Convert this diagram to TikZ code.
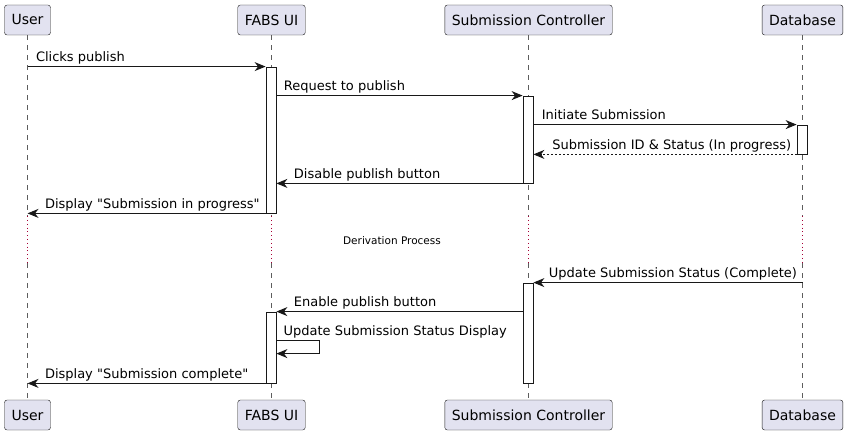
\documentclass[tikz,border=0pt]{standalone}
\usepackage{fontspec}
\setmainfont{DejaVu Sans}
\usetikzlibrary{arrows.meta,calc}
\definecolor{partfill}{HTML}{E2E2F0}
\definecolor{partline}{HTML}{181818}
\definecolor{delayline}{HTML}{A80036}
\tikzset{
	part/.style={draw=partline,fill=partfill,rounded corners=2.5pt,minimum height=30pt,inner xsep=7pt,font=\fontsize{14}{16}\selectfont},
	life/.style={draw=partline!70,line width=0.5pt,dash pattern=on 5pt off 5pt},
	delay/.style={draw=delayline,line width=0.8pt,dash pattern=on 0.8pt off 3pt},
	actbar/.style={draw=partline,fill=white,minimum width=10pt,inner sep=0pt,line width=0.8pt},
	msg/.style={draw=partline,line width=1pt,-{Stealth[length=11pt,width=9pt,inset=3.5pt]}},
	lbl/.style={anchor=base west,inner sep=0pt,font=\fontsize{13}{15}\selectfont},
	lblr/.style={anchor=base east,inner sep=0pt,font=\fontsize{13}{15}\selectfont}
}
\begin{document}
\begin{tikzpicture}[x=1pt,y=-1pt]
		\useasboundingbox (0,0) rectangle (848,435);
		% participants
		\node[part] (user) at (27.5,20) {User};
		\node[part] (fabs) at (271.5,20) {FABS UI};
		\node[part] (ctrl) at (528.5,20) {Submission Controller};
		\node[part] (db) at (802.5,20) {Database};
		\node[part] (userb) at (27.5,415) {User};
		\node[part] (fabsb) at (271.5,415) {FABS UI};
		\node[part] (ctrlb) at (528.5,415) {Submission Controller};
		\node[part] (dbb) at (802.5,415) {Database};
		% lifelines with the delay
		\foreach \p in {user,fabs,ctrl,db}{
			\coordinate (\p d1) at ($(\p.south)+(0,181)$);
			\coordinate (\p d2) at ($(\p.south)+(0,228)$);
			\draw[life] (\p.south) -- (\p d1);
			\draw[delay] (\p d1) -- (\p d2);
			\draw[life] (\p d2) -- (\p b.north);
		}
		\node[font=\fontsize{10.5}{12}\selectfont] (derive) at (392,241) {Derivation Process};
		% activations
		\node[actbar,minimum height=146pt] (af1) at (271,140) {};
		\node[actbar,minimum height=87pt] (ac1) at (528,139.5) {};
		\node[actbar,minimum height=29pt] (ad1) at (802,139.5) {};
		\node[actbar,minimum height=100pt] (ac2) at (528,333) {};
		\node[actbar,minimum height=71pt] (af2) at (271,347.5) {};
		% messages
		\draw[msg] (user |- af1.north) -- node[lbl,pos=0,xshift=8pt,yshift=5pt] {Clicks publish} (af1.north west);
		\draw[msg] (af1.east |- ac1.north) -- node[lbl,pos=0,xshift=7pt,yshift=5pt] {Request to publish} (ac1.north west);
		\draw[msg] (ac1.east |- ad1.north) -- node[lbl,pos=0,xshift=8pt,yshift=5pt] {Initiate Submission} (ad1.north west);
		\draw[msg,dash pattern=on 2pt off 2pt] (ad1.south west) -- node[lblr,pos=0,xshift=-5pt,yshift=5pt] {Submission ID \& Status (In progress)} (ac1.east |- ad1.south);
		\draw[msg] (ac1.south west) -- node[lbl,pos=1,xshift=17pt,yshift=5pt] {Disable publish button} (af1.east |- ac1.south);
		\draw[msg] (af1.south west) -- node[lbl,pos=1,xshift=17pt,yshift=5pt] {Display \textquotedbl Submission in progress\textquotedbl} (user |- af1.south);
		\draw[msg] (db |- ac2.north) -- node[lblr,pos=0,xshift=-5pt,yshift=5pt] {Update Submission Status (Complete)} (ac2.north east);
		\draw[msg] (ac2.west |- af2.north) -- node[lbl,pos=1,xshift=17pt,yshift=5pt] {Enable publish button} (af2.north east);
		\coordinate (self) at ($(af2.north east)+(0,29)$);
		\draw[msg] (self) -- ++(43,0) -- ++(0,13) -- ++(-43,0);
		\node[lbl] (selflbl) at ($(self)+(7,-5)$) {Update Submission Status Display};
		\draw[msg] (af2.south west) -- node[lbl,pos=1,xshift=17pt,yshift=5pt] {Display \textquotedbl Submission complete\textquotedbl} (user |- af2.south);
\end{tikzpicture}
\end{document}
